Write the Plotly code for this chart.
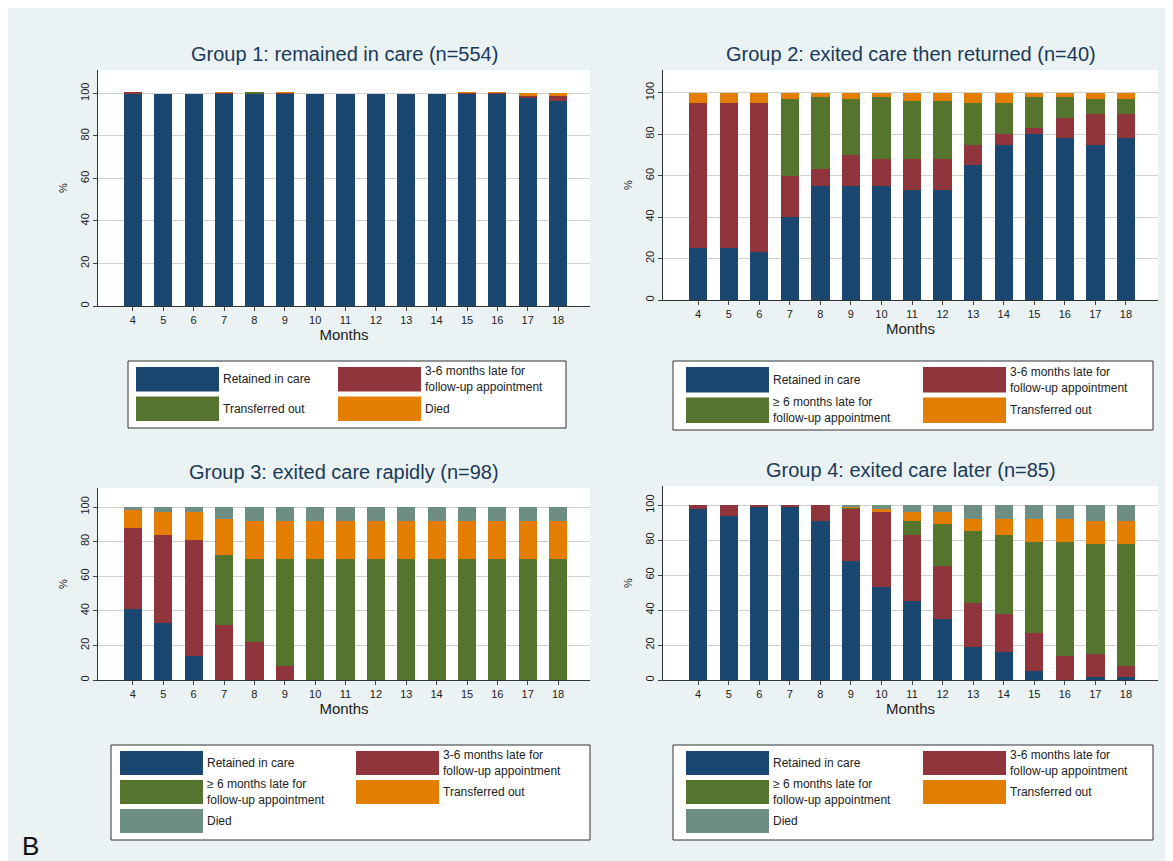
import plotly.graph_objects as go

W, H = 1173, 861
months = list(range(4, 19))

# Group 1
g1_retained = [100, 99.5, 99.5, 100, 100, 100, 99.5, 99.5, 99.5, 99.5, 99.5, 100, 100, 98, 96.5]
g1_late36 = [0.3, 0, 0, 0.3, 0, 0.3, 0, 0, 0, 0, 0, 0.3, 0.3, 1, 2.5]
g1_transferred = [0, 0, 0, 0, 0.6, 0, 0, 0, 0, 0, 0, 0, 0, 0, 0]
g1_died = [0, 0, 0, 0.3, 0, 0.3, 0, 0, 0, 0, 0, 0.3, 0.3, 1, 1]

# Group 2
g2_retained = [25, 25, 23, 40, 55, 55, 55, 53, 53, 65, 75, 80, 78, 75, 78]
g2_late36 = [70, 70, 72, 20, 8, 15, 13, 15, 15, 10, 5, 3, 10, 15, 12]
g2_late6 = [0, 0, 0, 37, 35, 27, 30, 28, 28, 20, 15, 15, 10, 7, 7]
g2_transferred = [5, 5, 5, 3, 2, 3, 2, 4, 4, 5, 5, 2, 2, 3, 3]

# Group 3
g3_retained = [41, 33, 14, 0, 0, 0, 0, 0, 0, 0, 0, 0, 0, 0, 0]
g3_late36 = [47, 51, 67, 32, 22, 8, 0, 0, 0, 0, 0, 0, 0, 0, 0]
g3_late6 = [0, 0, 0, 40, 48, 62, 70, 70, 70, 70, 70, 70, 70, 70, 70]
g3_transferred = [10, 13, 16, 21, 22, 22, 22, 22, 22, 22, 22, 22, 22, 22, 22]
g3_died = [2, 3, 3, 7, 8, 8, 8, 8, 8, 8, 8, 8, 8, 8, 8]

# Group 4
g4_retained = [98, 94, 99, 99, 91, 68, 53, 45, 35, 19, 16, 5, 0, 2, 2]
g4_late36 = [2, 6, 1, 1, 9, 30, 43, 38, 30, 25, 22, 22, 14, 13, 6]
g4_late6 = [0, 0, 0, 0, 0, 0.5, 0, 8, 24, 41, 45, 52, 65, 63, 70]
g4_transferred = [0, 0, 0, 0, 0, 1, 2, 5, 7, 7, 9, 13, 13, 13, 13]
g4_died = [0, 0, 0, 0, 0, 0.5, 2, 4, 4, 8, 8, 8, 8, 9, 9]

NAVY, MAROON, GREEN, ORANGE, TEAL = '#1a476f', '#90353b', '#55752f', '#e37e00', '#6e8e84'

panels = [
    ('Group 1: remained in care (n=554)', (90, 582, 62, 298),
     [g1_retained, g1_late36, g1_transferred, g1_died], [NAVY, MAROON, GREEN, ORANGE],
     ['Retained in care', '3-6 months late for<br>follow-up appointment', 'Transferred out', 'Died'],
     (120, 558, 353, 420), (128, 330)),
    ('Group 2: exited care then returned (n=40)', (655, 1150, 62, 292),
     [g2_retained, g2_late36, g2_late6, g2_transferred], [NAVY, MAROON, GREEN, ORANGE],
     ['Retained in care', '3-6 months late for<br>follow-up appointment',
      '≥ 6 months late for<br>follow-up appointment', 'Transferred out'],
     (665, 1145, 353, 422), (678, 915)),
    ('Group 3: exited care rapidly (n=98)', (90, 582, 480, 672),
     [g3_retained, g3_late36, g3_late6, g3_transferred, g3_died], [NAVY, MAROON, GREEN, ORANGE, TEAL],
     ['Retained in care', '3-6 months late for<br>follow-up appointment',
      '≥ 6 months late for<br>follow-up appointment', 'Transferred out', 'Died'],
     (103, 582, 737, 832), (112, 348)),
    ('Group 4: exited care later (n=85)', (655, 1150, 478, 672),
     [g4_retained, g4_late36, g4_late6, g4_transferred, g4_died], [NAVY, MAROON, GREEN, ORANGE, TEAL],
     ['Retained in care', '3-6 months late for<br>follow-up appointment',
      '≥ 6 months late for<br>follow-up appointment', 'Transferred out', 'Died'],
     (665, 1145, 737, 832), (678, 915)),
]

px_ = lambda x: x / W
py_ = lambda y: 1 - y / H

fig = go.Figure()
layout = dict(width=W, height=H, margin=dict(l=0, r=0, t=0, b=0),
              paper_bgcolor='#eaf2f3', plot_bgcolor='white', barmode='stack',
              showlegend=False, font=dict(family='Liberation Sans, Arial', color='#222'))
shapes, annotations = [], []

for i, (title, (x0, x1, y0, y1), series, colors, labels, box, cols) in enumerate(panels):
    n = '' if i == 0 else str(i + 1)
    for vals, c in zip(series, colors):
        fig.add_trace(go.Bar(x=months, y=vals, marker=dict(color=c, line=dict(width=0)),
                             width=0.6, xaxis='x' + n, yaxis='y' + n))
    layout['xaxis' + n] = dict(domain=[px_(x0), px_(x1)], range=[2.85, 19.05], anchor='y' + n,
                               tickvals=months, ticks='outside', ticklen=4, showgrid=False,
                               tickfont=dict(size=11), showline=True, linecolor='#333',
                               title=dict(text='Months', font=dict(size=15), standoff=4))
    layout['yaxis' + n] = dict(domain=[py_(y1), py_(y0)], range=[0, 111], anchor='x' + n,
                               tickvals=[0, 20, 40, 60, 80, 100], tickangle=-90, ticks='outside',
                               ticklen=4, gridcolor='#d0d0d0', showline=True, linecolor='#333',
                               tickfont=dict(size=11), zeroline=False,
                               title=dict(text='%', font=dict(size=11), standoff=8))
    annotations.append(dict(text=title, x=px_((x0 + x1) / 2), y=py_(y0 - 16), xref='paper', yref='paper',
                            xanchor='center', yanchor='middle', showarrow=False,
                            font=dict(size=20, color='#1a3a5a')))
    bx0, bx1, by0, by1 = box
    shapes.append(dict(type='rect', xref='paper', yref='paper', x0=px_(bx0), x1=px_(bx1),
                       y0=py_(by1), y1=py_(by0), fillcolor='white', line=dict(color='#333', width=1)))
    nrows = (len(labels) + 1) // 2
    rowh = (by1 - by0 - 8) / nrows
    for k, (lab, c) in enumerate(zip(labels, colors)):
        r, cc = divmod(k, 2)
        sx = cols[cc]
        sy0 = by0 + 6 + r * rowh
        sy1 = sy0 + rowh - 5
        shapes.append(dict(type='rect', xref='paper', yref='paper', x0=px_(sx), x1=px_(sx + 83),
                           y0=py_(sy1), y1=py_(sy0), fillcolor=c, line=dict(width=0)))
        annotations.append(dict(text=lab, x=px_(sx + 85), y=py_((sy0 + sy1) / 2), xref='paper', yref='paper',
                                xanchor='left', yanchor='middle', align='left', showarrow=False,
                                font=dict(size=12)))

annotations.append(dict(text='B', x=px_(12), y=py_(838), xref='paper', yref='paper', xanchor='left',
                        yanchor='middle', showarrow=False, font=dict(size=26, color='#111')))
layout['shapes'] = shapes
layout['annotations'] = annotations
fig.update_layout(**layout)
fig.write_html("out.html")
